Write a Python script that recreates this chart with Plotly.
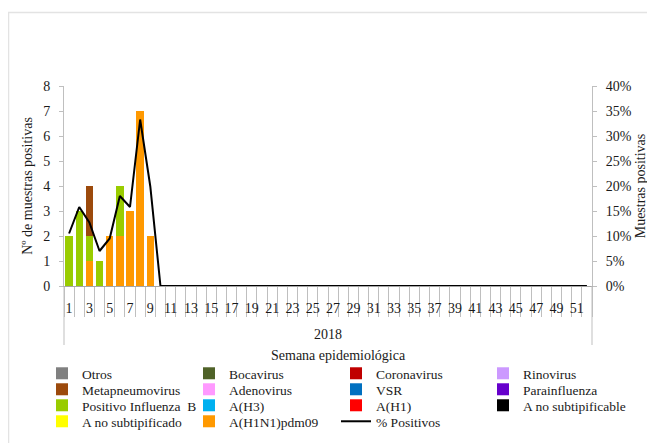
import plotly.graph_objects as go

weeks = [str(i) for i in range(1, 53)]
tick_text = [w if int(w) % 2 == 1 else "" for w in weeks]

def pad(vals):
    return vals + [0] * (52 - len(vals))

# series values (number of positive samples per week)
h1n1_pdm09 = pad([0, 0, 1, 0, 2, 2, 3, 7, 2])
a_no_subtipificado = pad([])
a_no_subtipificable = pad([])
a_h1 = pad([])
a_h3 = pad([])
influenza_b = pad([2, 3, 1, 1, 0, 2, 0, 0, 0])
parainfluenza = pad([])
vsr = pad([])
adenovirus = pad([])
metapneumovirus = pad([0, 0, 2])
rinovirus = pad([])
coronavirus = pad([])
bocavirus = pad([])
otros = pad([])
pct_positivos = pad([10.5, 15.8, 12.7, 7.0, 9.5, 18.0, 15.8, 33.3, 19.9, 0])

# stacked from bottom to top: (name, values, colour, legend row, legend rank)
series = [
    ("A(H1N1)pdm09", h1n1_pdm09, "#ff9900", "legend4", 2),
    ("A no subtipificado", a_no_subtipificado, "#ffff00", "legend4", 1),
    ("A no subtipificable", a_no_subtipificable, "#000000", "legend3", 4),
    ("A(H1)", a_h1, "#ff0000", "legend3", 3),
    ("A(H3)", a_h3, "#00b0f0", "legend3", 2),
    ("Positivo Influenza  B", influenza_b, "#99cc00", "legend3", 1),
    ("Parainfluenza", parainfluenza, "#6600cc", "legend2", 4),
    ("VSR", vsr, "#0070c0", "legend2", 3),
    ("Adenovirus", adenovirus, "#ff99ff", "legend2", 2),
    ("Metapneumovirus", metapneumovirus, "#9c4a0c", "legend2", 1),
    ("Rinovirus", rinovirus, "#cc99ff", "legend", 4),
    ("Coronavirus", coronavirus, "#c00000", "legend", 3),
    ("Bocavirus", bocavirus, "#4f6228", "legend", 2),
    ("Otros", otros, "#808080", "legend", 1),
]

FONT = "'Liberation Serif', 'Times New Roman', 'DejaVu Serif', serif"
TXT = "#1a1a1a"
GRID = "#bfbfbf"
FRAME = "#e3e3e3"
W, H = 647, 435
L, T, PW, PH = 56, 78, 528, 200

fig = go.Figure()
for name, vals, col, leg, rank in series:
    fig.add_trace(go.Bar(x=weeks, y=vals, name=name, marker_color=col,
                         marker_line_width=0, legend=leg, legendrank=rank))

fig.add_trace(go.Scatter(x=weeks, y=pct_positivos, name="% Positivos", mode="lines",
                         line=dict(color="black", width=2), yaxis="y2",
                         legend="legend4", legendrank=3))

def legend_row(top_px):
    return dict(orientation="h", xref="paper", yref="paper",
                x=(34 - L) / PW, xanchor="left", y=(T + PH - top_px) / PH, yanchor="top",
                entrywidth=102, entrywidthmode="pixels", traceorder="normal",
                font=dict(family=FONT, size=13.5, color=TXT), itemwidth=30,
                bgcolor="rgba(0,0,0,0)", borderwidth=0)

def px_x(p):
    return (p - L) / PW

def px_y(p):
    return (T + PH - p) / PH

fig.update_layout(
    width=W, height=H,
    paper_bgcolor="white", plot_bgcolor="white",
    margin=dict(l=L, r=W - L - PW, t=T, b=H - T - PH, autoexpand=False),
    barmode="stack", bargap=0.27,
    font=dict(family=FONT, size=14, color=TXT),
    showlegend=True,
    legend=legend_row(350),
    legend2=legend_row(366),
    legend3=legend_row(382),
    legend4=legend_row(398),
    xaxis=dict(type="category", tickmode="array", tickvals=weeks, ticktext=tick_text,
               tickangle=0, tickson="boundaries", ticks="outside", ticklen=30,
               tickcolor=GRID, showline=True, linecolor="#a6a6a6", linewidth=1,
               showgrid=False, tickfont=dict(size=14), range=[-0.5, 51.5],
               ticklabelstandoff=9),
    yaxis=dict(range=[0, 8], dtick=1, showgrid=False, zeroline=False, showline=True,
               linecolor=GRID, ticks="outside", ticklen=4, tickcolor=GRID,
               tickfont=dict(size=14), ticklabelstandoff=6,
               title=dict(text="Nº de muestras positivas", font=dict(size=14), standoff=7)),
    yaxis2=dict(range=[0, 40], dtick=5, ticksuffix="%", overlaying="y", side="right",
                showgrid=False, zeroline=False, showline=True, linecolor=GRID,
                ticks="outside", ticklen=4, tickcolor=GRID, tickfont=dict(size=14),
                ticklabelstandoff=6,
                title=dict(text="Muestras positivas", font=dict(size=14), standoff=4)),
    annotations=[
        dict(text="2018", xref="paper", yref="paper", x=0.5, y=-0.24, showarrow=False,
             xanchor="center", yanchor="middle", font=dict(size=14)),
        dict(text="Semana epidemiológica", xref="paper", yref="paper", x=0.52, y=-0.345,
             showarrow=False, xanchor="center", yanchor="middle", font=dict(size=14)),
    ],
    shapes=[
        dict(type="line", xref="paper", yref="paper", x0=0, x1=0, y0=0, y1=-0.295,
             line=dict(color=GRID, width=1)),
        dict(type="line", xref="paper", yref="paper", x0=1, x1=1, y0=0, y1=-0.295,
             line=dict(color=GRID, width=1)),
        # faint outer frame of the original chart
        dict(type="line", xref="paper", yref="paper", x0=px_x(0), x1=px_x(W),
             y0=px_y(4.5), y1=px_y(4.5), line=dict(color=FRAME, width=1.5)),
        dict(type="line", xref="paper", yref="paper", x0=px_x(0.5), x1=px_x(0.5),
             y0=px_y(4.5), y1=px_y(H), line=dict(color=FRAME, width=1.5)),
    ],
)

fig.write_html("out.html")
